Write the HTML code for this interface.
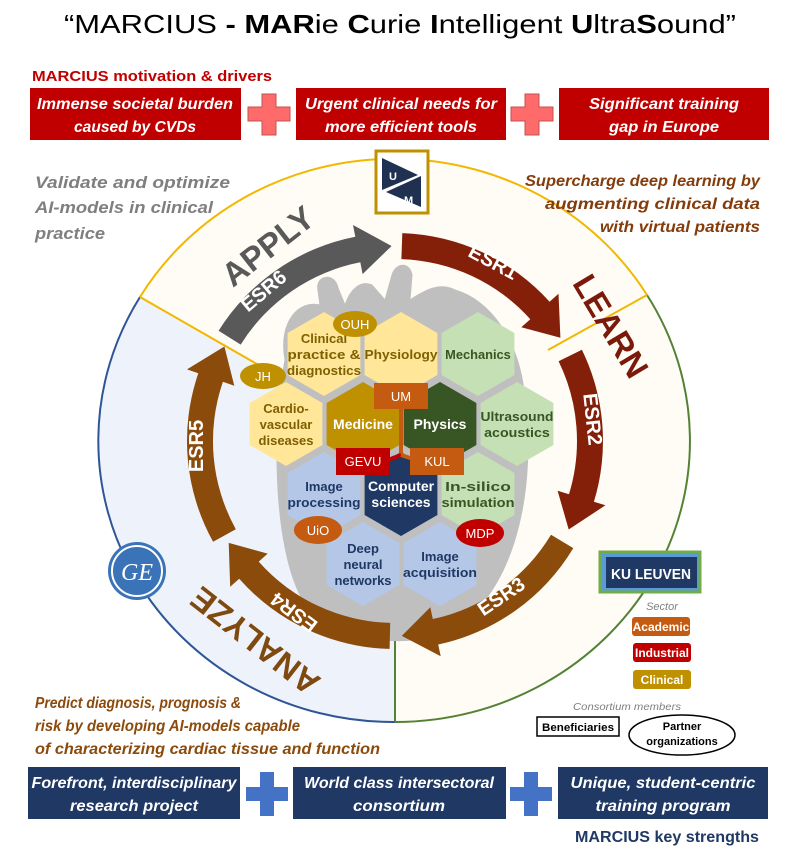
<!DOCTYPE html>
<html><head><meta charset="utf-8"><style>
html,body{margin:0;padding:0;background:#fff;}
svg{display:block;font-family:"Liberation Sans",sans-serif;}
.bi{font-weight:bold;font-style:italic;}
.b{font-weight:bold;}
</style></head><body>
<svg width="803" height="852" viewBox="0 0 803 852" xmlns="http://www.w3.org/2000/svg">
<!-- title -->
<text x="400" y="33" font-size="26" text-anchor="middle" textLength="672" lengthAdjust="spacingAndGlyphs">“MARCIUS <tspan class="b">- MAR</tspan>ie <tspan class="b">C</tspan>urie <tspan class="b">I</tspan>ntelligent <tspan class="b">U</tspan>ltra<tspan class="b">S</tspan>ound”</text>
<text x="32" y="81" font-size="15" fill="#c00000" class="b" textLength="240" lengthAdjust="spacingAndGlyphs">MARCIUS motivation &amp; drivers</text>
<!-- red boxes -->
<g fill="#c00000"><rect x="30" y="88" width="211" height="52"/><rect x="296" y="88" width="210" height="52"/><rect x="559" y="88" width="210" height="52"/></g>
<g fill="#ff6b6b" stroke="#c0504d" stroke-width="1"><path d="M262 94h14v13h14v14h-14v14h-14v-14h-14v-14h14z"/><path d="M525 94h14v13h14v14h-14v14h-14v-14h-14v-14h14z"/></g>
<g fill="#fff" font-size="16" class="bi" text-anchor="middle">
<text x="135" y="109" textLength="196" lengthAdjust="spacingAndGlyphs">Immense societal burden</text>
<text x="135" y="132" textLength="122" lengthAdjust="spacingAndGlyphs">caused by CVDs</text>
<text x="401" y="109" textLength="192" lengthAdjust="spacingAndGlyphs">Urgent clinical needs for</text>
<text x="401" y="132" textLength="152" lengthAdjust="spacingAndGlyphs">more efficient tools</text>
<text x="664" y="109" textLength="150" lengthAdjust="spacingAndGlyphs">Significant training</text>
<text x="664" y="132" textLength="110" lengthAdjust="spacingAndGlyphs">gap in Europe</text>
</g>
<!-- wedges -->
<path d="M395 441 L140 297 A295 281 0 0 1 647 295 Z" fill="#fefcf4"/>
<path d="M395 441 L647 295 A295 281 0 0 1 395 722 Z" fill="#fefcf4"/>
<path d="M395 441 L395 722 A295 281 0 0 1 140 297 Z" fill="#eef2fa"/>
<path d="M140 297 A295 281 0 0 1 647 295" fill="none" stroke="#f2b800" stroke-width="2"/>
<path d="M647 295 A295 281 0 0 1 395 722" fill="none" stroke="#548235" stroke-width="2"/>
<path d="M395 722 A295 281 0 0 1 140 297" fill="none" stroke="#2f5597" stroke-width="2"/>
<line x1="140" y1="297" x2="290" y2="383" stroke="#f2b800" stroke-width="2"/>
<line x1="647" y1="295" x2="548" y2="350" stroke="#f2b800" stroke-width="2"/>
<line x1="395" y1="722" x2="395" y2="612" stroke="#548235" stroke-width="2"/>
<!-- side texts -->
<g class="bi" font-size="17" fill="#7f7f7f">
<text x="35" y="188" textLength="195" lengthAdjust="spacingAndGlyphs">Validate and optimize</text>
<text x="35" y="213" textLength="178" lengthAdjust="spacingAndGlyphs">AI-models in clinical</text>
<text x="35" y="239" textLength="70" lengthAdjust="spacingAndGlyphs">practice</text>
</g>
<g class="bi" font-size="16" fill="#843c0c" text-anchor="end">
<text x="760" y="186" textLength="235" lengthAdjust="spacingAndGlyphs">Supercharge deep learning by</text>
<text x="760" y="209" textLength="215" lengthAdjust="spacingAndGlyphs">augmenting clinical data</text>
<text x="760" y="232" textLength="160" lengthAdjust="spacingAndGlyphs">with virtual patients</text>
</g>
<g class="bi" font-size="16" fill="#8c4a0c">
<text x="35" y="708" textLength="206" lengthAdjust="spacingAndGlyphs">Predict diagnosis, prognosis &amp;</text>
<text x="35" y="731" textLength="265" lengthAdjust="spacingAndGlyphs">risk by developing AI-models capable</text>
<text x="35" y="754" textLength="345" lengthAdjust="spacingAndGlyphs">of characterizing cardiac tissue and function</text>
</g>
<!-- heart -->
<g fill="#bfbfbf" stroke="#bfbfbf">
<path d="M285 360 C278 320 300 300 320 305 L318 290 C315 275 335 272 338 288 L345 305 C350 290 360 280 372 285 L385 300 L392 275 C396 262 410 262 412 275 L410 300 C425 290 440 282 455 290 C490 300 520 340 525 400 C535 480 520 580 460 625 C420 650 350 645 310 610 C275 570 270 440 285 360 Z"/>
</g>
<!-- hexes -->
<g id="hexes"></g>
<!-- arrows -->
<g id="arrows"></g>
<!-- arrow labels -->
<g fill="#fff" class="b" font-size="20" text-anchor="middle">
<text transform="translate(268,296) rotate(-40)">ESR6</text>
<text transform="translate(490,268) rotate(28)">ESR1</text>
<text transform="translate(586,420) rotate(84)">ESR2</text>
<text transform="translate(505,602) rotate(-34)">ESR3</text>
<text transform="translate(298,607) rotate(217)">ESR4</text>
<text transform="translate(203,446) rotate(-90)">ESR5</text>
</g>
<g class="b" font-size="33" text-anchor="middle">
<text fill="#595959" transform="translate(275,255) rotate(-38)">APPLY</text>
<text fill="#7b1a0a" transform="translate(601,332) rotate(59)">LEARN</text>
<text fill="#7f4a10" transform="translate(262,632) rotate(218)">ANALYZE</text>
</g>
<!-- badges -->
<g font-size="13" fill="#fff" text-anchor="middle">
<line x1="401" y1="405" x2="401" y2="455" stroke="#c55a11" stroke-width="4"/>
<line x1="401" y1="455" x2="380" y2="463" stroke="#c00000" stroke-width="4"/>
<line x1="401" y1="455" x2="425" y2="463" stroke="#c55a11" stroke-width="4"/>
<ellipse cx="355" cy="324" rx="22" ry="13" fill="#bf9000"/><text x="355" y="329">OUH</text>
<ellipse cx="263" cy="376" rx="23" ry="13" fill="#bf9000"/><text x="263" y="381">JH</text>
<rect x="374" y="383" width="54" height="26" fill="#c55a11"/><text x="401" y="401">UM</text>
<rect x="336" y="448" width="54" height="27" fill="#c00000"/><text x="363" y="466">GEVU</text>
<rect x="410" y="448" width="54" height="27" fill="#c55a11"/><text x="437" y="466">KUL</text>
<ellipse cx="318" cy="530" rx="24" ry="14" fill="#c55a11"/><text x="318" y="535">UiO</text>
<ellipse cx="480" cy="533" rx="24" ry="14" fill="#c00000"/><text x="480" y="538">MDP</text>
</g>
<!-- UM logo -->
<rect x="376" y="151" width="52" height="62" fill="#fff" stroke="#bf9000" stroke-width="3"/>
<path d="M382 158 L418 175 L382 190 Z" fill="#1f3050"/><path d="M421 176 L386 192 L421 207 Z" fill="#1f3050"/>
<text x="389" y="180" font-size="11" fill="#fff" class="b">U</text><text x="404" y="204" font-size="11" fill="#fff" class="b">M</text>
<!-- KU Leuven -->
<rect x="600" y="552" width="100" height="40" fill="#5b9bd5" stroke="#70ad47" stroke-width="3"/>
<rect x="606" y="557" width="91" height="31" fill="#1f3864"/>
<text x="651" y="579" font-size="15" fill="#fff" class="b" text-anchor="middle" textLength="80" lengthAdjust="spacingAndGlyphs">KU LEUVEN</text>
<!-- GE -->
<circle cx="137" cy="571" r="29" fill="#3b73b9"/><circle cx="137" cy="571" r="25" fill="none" stroke="#fff" stroke-width="2"/>
<text x="137" y="580" font-size="24" fill="#fff" font-style="italic" font-family="Liberation Serif,serif" text-anchor="middle">GE</text>
<!-- legend -->
<text x="662" y="610" font-size="11" fill="#7f7f7f" font-style="italic" text-anchor="middle">Sector</text>
<g font-size="12" class="b" fill="#fff" text-anchor="middle">
<rect x="632" y="617" width="58" height="19" rx="3" fill="#c55a11"/><text x="661" y="631">Academic</text>
<rect x="633" y="643" width="58" height="19" rx="3" fill="#c00000"/><text x="662" y="657">Industrial</text>
<rect x="633" y="670" width="58" height="19" rx="3" fill="#bf9000"/><text x="662" y="684">Clinical</text>
</g>
<text x="627" y="710" font-size="10" fill="#7f7f7f" font-style="italic" text-anchor="middle" textLength="108" lengthAdjust="spacingAndGlyphs">Consortium members</text>
<rect x="537" y="717" width="82" height="19" fill="#fff" stroke="#000" stroke-width="1.5"/>
<text x="578" y="731" font-size="11" class="b" text-anchor="middle" textLength="72" lengthAdjust="spacingAndGlyphs">Beneficiaries</text>
<ellipse cx="682" cy="735" rx="53" ry="20" fill="#fff" stroke="#000" stroke-width="1.5"/>
<text x="682" y="730" font-size="11" class="b" text-anchor="middle">Partner</text>
<text x="682" y="745" font-size="11" class="b" text-anchor="middle">organizations</text>
<!-- bottom boxes -->
<g fill="#1f3864"><rect x="28" y="767" width="212" height="52"/><rect x="293" y="767" width="213" height="52"/><rect x="558" y="767" width="210" height="52"/></g>
<g fill="#4472c4"><path d="M260 772h14v15h14v14h-14v15h-14v-15h-14v-14h14z"/><path d="M524 772h14v15h14v14h-14v15h-14v-15h-14v-14h14z"/></g>
<g fill="#fff" font-size="16" class="bi" text-anchor="middle">
<text x="134" y="788" textLength="205" lengthAdjust="spacingAndGlyphs">Forefront, interdisciplinary</text>
<text x="134" y="811" textLength="128" lengthAdjust="spacingAndGlyphs">research project</text>
<text x="399" y="788" textLength="190" lengthAdjust="spacingAndGlyphs">World class intersectoral</text>
<text x="399" y="811" textLength="92" lengthAdjust="spacingAndGlyphs">consortium</text>
<text x="663" y="788" textLength="185" lengthAdjust="spacingAndGlyphs">Unique, student-centric</text>
<text x="663" y="811" textLength="135" lengthAdjust="spacingAndGlyphs">training program</text>
</g>
<text x="575" y="842" font-size="16" class="b" fill="#1f3864" textLength="184" lengthAdjust="spacingAndGlyphs">MARCIUS key strengths</text>
</svg>
<script>
(function(){
var NS="http://www.w3.org/2000/svg",cx=395,cy=441;
function P(r,a){a=a*Math.PI/180;return (cx+r*Math.cos(a)).toFixed(1)+" "+(cy+r*Math.sin(a)).toFixed(1);}
function arrow(a1,a2,col){var r=195,w=13,hw=25,ah=a2-10;
var d="M"+P(r+w,a1)+" A"+(r+w)+" "+(r+w)+" 0 0 1 "+P(r+w,ah)+" L"+P(r+hw,ah)+" L"+P(r,a2)+" L"+P(r-hw,ah)+" L"+P(r-w,ah)+" A"+(r-w)+" "+(r-w)+" 0 0 0 "+P(r-w,a1)+" Z";
var p=document.createElementNS(NS,"path");p.setAttribute("d",d);p.setAttribute("fill",col);document.getElementById("arrows").appendChild(p);}
arrow(212,269,"#595959");arrow(272,328,"#84200a");arrow(334,387,"#84200a");
arrow(31,88,"#8a4b0b");arrow(91.5,148.5,"#8a4b0b");arrow(151,209,"#8a4b0b");
var hx=[
[324,354,"#ffe699","#7f6000",["Clinical","practice &","diagnostics"],0],
[401,354,"#ffe699","#7f6000",["Physiology"],0],
[478,354,"#c5e0b4","#375623",["Mechanics"],0],
[286,424,"#ffe699","#7f6000",["Cardio-","vascular","diseases"],0],
[363,424,"#bf9000","#fff",["Medicine"],1],
[440,424,"#375623","#fff",["Physics"],1],
[517,424,"#c5e0b4","#375623",["Ultrasound","acoustics"],0],
[324,494,"#b4c7e7","#1f3864",["Image","processing"],0],
[401,494,"#1f3864","#fff",["Computer","sciences"],1],
[478,494,"#c5e0b4","#375623",["In-silico","simulation"],0],
[363,564,"#b4c7e7","#1f3864",["Deep","neural","networks"],0],
[440,564,"#b4c7e7","#1f3864",["Image","acquisition"],0]];
var g=document.getElementById("hexes");
hx.forEach(function(h){var R=42,pts=[];for(var i=0;i<6;i++){var a=(60*i-90)*Math.PI/180;pts.push((h[0]+R*0.87*Math.cos(a)/0.866*0.866/0.87*1).toFixed(1)+","+(h[1]+R*Math.sin(a)).toFixed(1));}
var pg=document.createElementNS(NS,"polygon");pg.setAttribute("points",pts.join(" "));pg.setAttribute("fill",h[2]);g.appendChild(pg);
var n=h[4].length,fs=h[5]?14:13,lh=16;
h[4].forEach(function(s,i){var t=document.createElementNS(NS,"text");t.setAttribute("x",h[0]);t.setAttribute("y",h[1]+5+(i-(n-1)/2)*lh);t.setAttribute("text-anchor","middle");t.setAttribute("font-size",fs);t.setAttribute("font-weight","bold");t.setAttribute("fill",h[3]);if(s.length>8)t.setAttribute("textLength",Math.min(74,s.length*7.3));t.setAttribute("lengthAdjust","spacingAndGlyphs");t.textContent=s;g.appendChild(t);});});
})();
</script>
</body></html>
